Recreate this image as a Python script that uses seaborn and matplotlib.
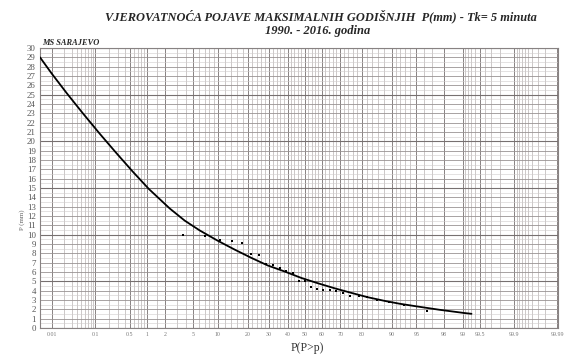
import math
import numpy as np
import pandas as pd
import matplotlib
matplotlib.use("Agg")
import matplotlib.pyplot as plt
import seaborn as sns

# ---------------- data ----------------
curve_prob = [0.0048, 0.0097, 0.0228, 0.054, 0.127, 0.27, 0.565, 1.08, 2.34, 3.86,
              6.1, 10.0, 15.1, 21.7, 29.3, 38.4, 48.2, 57.6, 67.1, 75.6, 82.3,
              88.1, 91.9, 95.2, 97.66, 99.08, 99.30]
curve_val = [29.0, 27.25, 25.15, 23.0, 20.8, 18.8, 16.75, 14.9, 12.8, 11.5,
             10.45, 9.35, 8.4, 7.5, 6.7, 6.05, 5.35, 4.8, 4.25, 3.75, 3.3,
             2.9, 2.6, 2.3, 1.95, 1.6, 1.52]

obs_prob = [3.6, 7.1, 10.7, 14.3, 17.9, 21.4, 25.0, 28.6, 32.1, 35.7, 39.3, 42.9,
            46.4, 50.0, 53.6, 57.1, 60.7, 64.3, 67.9, 71.4, 75.0, 78.6, 82.1,
            85.7, 89.3, 92.9, 96.4]
obs_val = [9.95, 9.85, 9.4, 9.36, 9.15, 7.9, 7.8, 6.86, 6.7, 6.4, 6.1, 5.93,
           5.04, 5.0, 4.43, 4.18, 4.07, 4.04, 3.95, 3.72, 3.46, 3.4, 3.3,
           3.0, 2.75, 2.5, 1.85]

x_tick_values = [0.01, 0.1, 0.5, 1, 2, 5, 10, 20, 30, 40, 50, 60, 70, 80,
                 90, 95, 98, 99, 99.5, 99.9, 99.99]
x_tick_labels = ["0.01", "0.1", "0.5", "1", "2", "5", "10", "20", "30", "40",
                 "50", "60", "70", "80", "90", "95", "98", "99", "99.5",
                 "99.9", "99.99"]
y_ticks = list(range(0, 31))

title1 = "VJEROVATNOĆA POJAVE MAKSIMALNIH GODIŠNJIH  P(mm) - Tk= 5 minuta"
title2 = "1990. - 2016. godina"
station = "MS SARAJEVO"

# ---------------- normal probability scale ----------------
_a = [-3.969683028665376e+01, 2.209460984245205e+02, -2.759285104469687e+02,
      1.383577518672690e+02, -3.066479806614716e+01, 2.506628277459239e+00]
_b = [-5.447609879822406e+01, 1.615858368580409e+02, -1.556989798598866e+02,
      6.680131188771972e+01, -1.328068155288572e+01]
_c = [-7.784894002430293e-03, -3.223964580411365e-01, -2.400758277161838e+00,
      -2.549671180840707e+00, 4.374664141464968e+00, 2.938163982698783e+00]
_d = [7.784695709041462e-03, 3.224671290700398e-01, 2.445134137142996e+00,
      3.754408661907416e+00]


def _ppf(p):
    p = np.clip(np.asarray(p, dtype=float), 1e-12, 1 - 1e-12)
    plow = 0.02425
    out = np.empty_like(p)
    lo = p < plow
    hi = p > 1 - plow
    mid = ~(lo | hi)
    q = p[mid] - 0.5
    r = q * q
    out[mid] = ((((((_a[0]*r+_a[1])*r+_a[2])*r+_a[3])*r+_a[4])*r+_a[5])*q /
                (((((_b[0]*r+_b[1])*r+_b[2])*r+_b[3])*r+_b[4])*r+1))
    q = np.sqrt(-2 * np.log(p[lo]))
    out[lo] = ((((((_c[0]*q+_c[1])*q+_c[2])*q+_c[3])*q+_c[4])*q+_c[5]) /
               ((((_d[0]*q+_d[1])*q+_d[2])*q+_d[3])*q+1))
    q = np.sqrt(-2 * np.log(1 - p[hi]))
    out[hi] = -((((((_c[0]*q+_c[1])*q+_c[2])*q+_c[3])*q+_c[4])*q+_c[5]) /
                ((((_d[0]*q+_d[1])*q+_d[2])*q+_d[3])*q+1))
    return out


_erf = np.vectorize(math.erf)


def fwd(pct):
    pct = np.asarray(pct, dtype=float)
    return _ppf(pct / 100.0)


def inv(z):
    z = np.asarray(z, dtype=float)
    return 100.0 * 0.5 * (1 + _erf(z / math.sqrt(2)))


# ---------------- figure ----------------
sns.set_style("white")
plt.rcParams["font.family"] = ["Liberation Serif", "DejaVu Serif"]

fig = plt.figure(figsize=(5.65, 3.6), dpi=100)
ax = fig.add_axes([40/565, 32/360, 518/565, 280/360])
ax.set_xscale("function", functions=(fwd, inv))
ax.set_xlim(0.0048, 99.9905)
ax.set_ylim(0, 30)

# grid
minor_x = (list(np.arange(0.02, 0.1, 0.01)) + list(np.arange(0.2, 1.0, 0.1)) +
           [1.5] + list(range(3, 10)) + list(range(12, 90, 2)) +
           list(range(91, 99)) + list(np.arange(99.1, 99.95, 0.1)) +
           list(np.arange(99.91, 99.99, 0.01)))
ax.set_xticks(x_tick_values)
ax.set_xticklabels(x_tick_labels)
ax.set_xticks(minor_x, minor=True)
ax.set_yticks(y_ticks)
ax.set_yticks(np.arange(0.5, 30, 0.5), minor=True)
ax.grid(which="major", axis="x", color="#888282", lw=0.7)
ax.grid(which="minor", axis="x", color="#b8b2b2", lw=0.5)
ax.grid(which="major", axis="y", color="#999393", lw=0.6)
ax.grid(which="minor", axis="y", color="#d0cbcb", lw=0.4)
for yy in range(0, 31, 5):
    ax.axhline(yy, color="#777070", lw=0.8, zorder=1)
ax.set_axisbelow(True)
ax.tick_params(which="both", length=0)
ax.tick_params(axis="x", labelsize=4.2, labelcolor="#777777", pad=3)
ax.tick_params(axis="y", labelsize=6.4, labelcolor="#555555", pad=3)
for s in ax.spines.values():
    s.set_color("#888282")
    s.set_linewidth(0.8)

curve_df = pd.DataFrame({"p": curve_prob, "v": curve_val})
obs_df = pd.DataFrame({"p": obs_prob, "v": obs_val})
sns.lineplot(data=curve_df, x="p", y="v", ax=ax, color="black", lw=1.3,
             sort=False, zorder=3)
sns.scatterplot(data=obs_df, x="p", y="v", ax=ax, color="black", marker="s",
                s=3.5, linewidth=0, zorder=4)
ax.set_xlabel("")
ax.set_ylabel("")

fig.text(321/565, 1-16/360, title1, ha="center", va="center", fontsize=8.9,
         fontweight="bold", fontstyle="italic")
fig.text(318/565, 1-31/360, title2, ha="center", va="center", fontsize=9,
         fontweight="bold", fontstyle="italic")
fig.text(42/565, 1-47/360, station, ha="left", va="bottom", fontsize=6,
         fontweight="bold", fontstyle="italic")
fig.text(22/565, 1-220/360, "P (mm)", rotation=90, ha="center", va="center",
         fontsize=5, color="#666666")
fig.text(307/565, 1-348/360, "P(P>p)", ha="center", va="center",
         fontsize=8.5, color="#333333")

fig.savefig("out.png", dpi=100, facecolor="white")
